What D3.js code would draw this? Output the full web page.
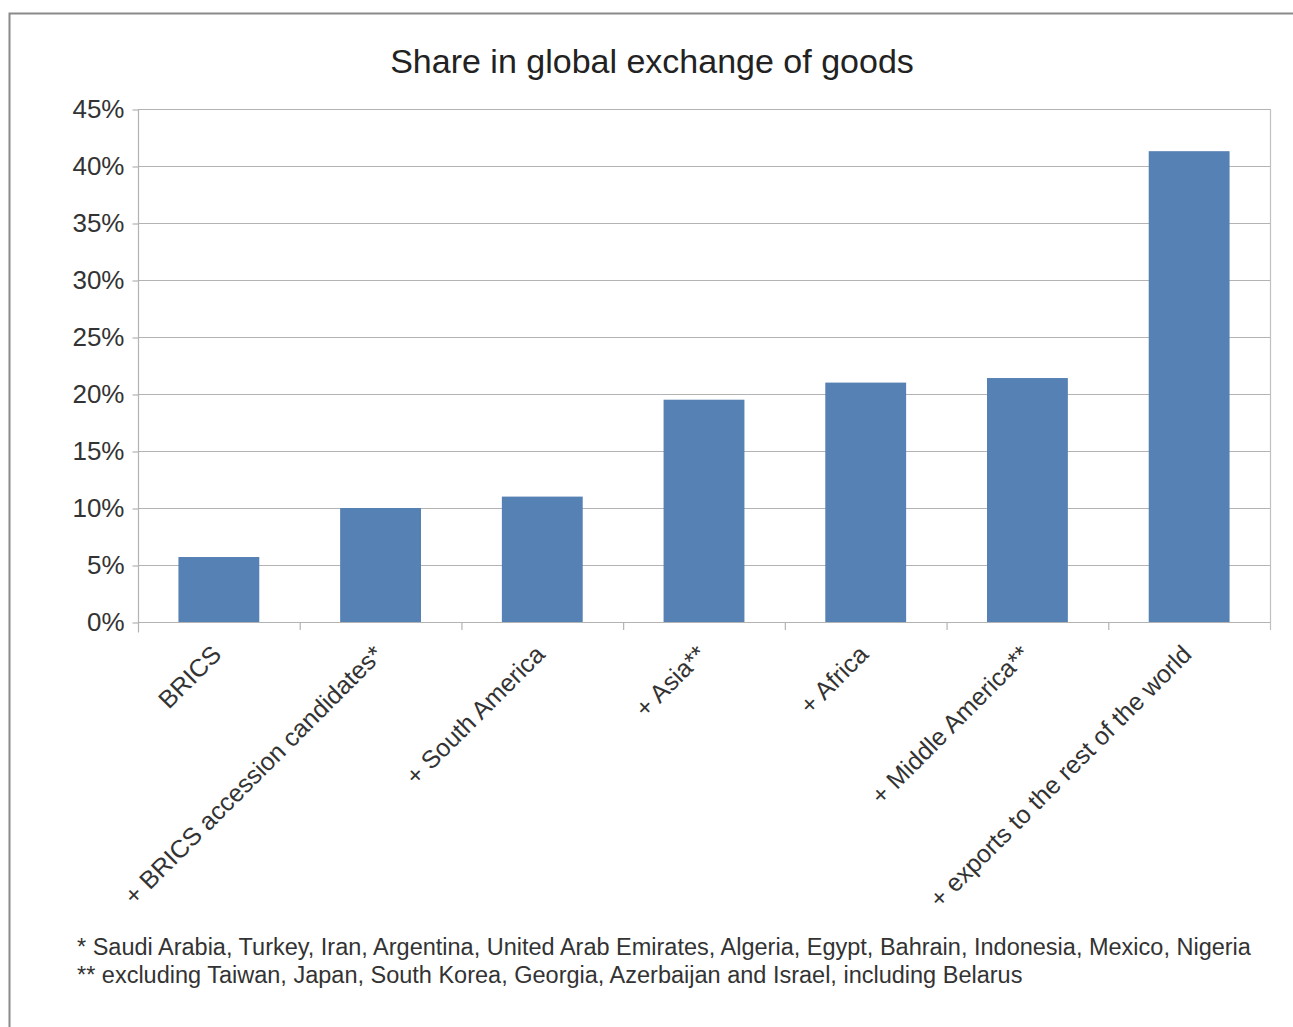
<!DOCTYPE html>
<html>
<head>
<meta charset="utf-8">
<script src="https://cdn.jsdelivr.net/npm/d3@7/dist/d3.min.js"></script>
<style>
  html, body { margin: 0; padding: 0; background: #fff; }
  svg { display: block; font-family: "Liberation Sans", Arial, sans-serif; }
</style>
</head>
<body>
<svg id="chart" width="1293" height="1027"></svg>
<script>
// Cumulative share of global goods exchange, per bloc extension
const categories = [
  "BRICS",
  "+ BRICS accession candidates*",
  "+ South America",
  "+ Asia**",
  "+ Africa",
  "+ Middle America**",
  "+ exports to the rest of the world"
];
const shares = [5.7, 10.0, 11.0, 19.5, 21.0, 21.4, 41.3];
const yTicks = [0, 5, 10, 15, 20, 25, 30, 35, 40, 45];
const titleText = "Share in global exchange of goods";
const footnotes = [
  "* Saudi Arabia, Turkey, Iran, Argentina, United Arab Emirates, Algeria, Egypt, Bahrain, Indonesia, Mexico, Nigeria",
  "** excluding Taiwan, Japan, South Korea, Georgia, Azerbaijan and Israel, including Belarus"
];

const svg = d3.select("#chart");
const W = 1293, H = 1027;
const plot = { left: 138, right: 1270, top: 109, bottom: 622 };

// Outer frame
svg.append("rect")
  .attr("x", 9.5).attr("y", 13.5)
  .attr("width", W + 20).attr("height", H + 20)
  .attr("fill", "#fff").attr("stroke", "#8a8a8a").attr("stroke-width", 2);

const x = d3.scaleBand().domain(categories).range([plot.left, plot.right]).paddingInner(0.5).paddingOuter(0.25);
const y = d3.scaleLinear().domain([0, 45]).range([plot.bottom, plot.top]);

// Title
svg.append("text")
  .attr("x", 652).attr("y", 73)
  .attr("text-anchor", "middle")
  .attr("font-size", 34)
  .attr("fill", "#222")
  .text(titleText);

// Horizontal gridlines
svg.append("g")
  .selectAll("line").data(yTicks).join("line")
  .attr("x1", plot.left).attr("x2", plot.right)
  .attr("y1", d => y(d) + 0.5).attr("y2", d => y(d) + 0.5)
  .attr("stroke", "#b3b3b3").attr("stroke-width", 1.2);

// Right border of plot area
svg.append("line")
  .attr("x1", plot.right + 0.5).attr("x2", plot.right + 0.5)
  .attr("y1", plot.top).attr("y2", plot.bottom + 8)
  .attr("stroke", "#c0c0c0").attr("stroke-width", 1.2);

// Bars
svg.append("g")
  .selectAll("rect").data(categories).join("rect")
  .attr("x", d => x(d))
  .attr("width", x.bandwidth())
  .attr("y", (d, i) => y(shares[i]))
  .attr("height", (d, i) => y(0) - y(shares[i]))
  .attr("fill", "#5581b4");

// Y axis
const yAxis = d3.axisLeft(y).tickValues(yTicks).tickSize(6).tickPadding(8).tickFormat(d => d + "%");
const gy = svg.append("g").attr("transform", `translate(${plot.left + 0.5},0.5)`).call(yAxis);
gy.select(".domain").attr("stroke", "#b3b3b3").attr("stroke-width", 1.2)
  .attr("d", `M0,${plot.top}V${plot.bottom + 10}`);
gy.selectAll(".tick line").attr("stroke", "#b3b3b3").attr("stroke-width", 1.2);
gy.selectAll(".tick text").attr("font-size", 26).attr("fill", "#333")
  .attr("font-family", "'Liberation Sans', Arial, sans-serif");

// X axis category boundary ticks
const bounds = d3.range(categories.length + 1).map(i => plot.left + i * (plot.right - plot.left) / categories.length);
svg.append("g")
  .selectAll("line").data(bounds.slice(1, -1)).join("line")
  .attr("x1", d => d + 0.5).attr("x2", d => d + 0.5)
  .attr("y1", plot.bottom).attr("y2", plot.bottom + 8)
  .attr("stroke", "#b3b3b3").attr("stroke-width", 1.2);

// Rotated category labels
svg.append("g")
  .selectAll("text").data(categories).join("text")
  .attr("transform", d => `translate(${x(d) + x.bandwidth() / 2 + 4},${plot.bottom + 34}) rotate(-45)`)
  .attr("text-anchor", "end")
  .attr("font-size", 25)
  .attr("fill", "#333")
  .text(d => d);

// Footnotes
svg.append("g")
  .selectAll("text").data(footnotes).join("text")
  .attr("x", 77)
  .attr("y", (d, i) => 955 + i * 28)
  .attr("font-size", 23.5)
  .attr("fill", "#333")
  .text(d => d);
</script>
</body>
</html>
